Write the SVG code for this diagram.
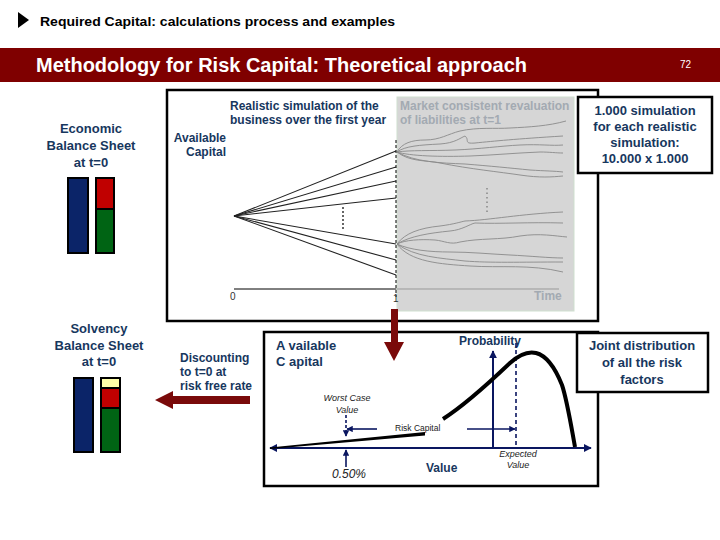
<svg xmlns="http://www.w3.org/2000/svg" width="720" height="540" viewBox="0 0 720 540">
<defs>
<style>
.nv{font-family:"Liberation Sans",Arial,sans-serif;font-weight:bold;fill:#17375e}
.it{font-family:"Liberation Sans",Arial,sans-serif;font-style:italic;fill:#222}
.gr{font-family:"Liberation Sans",Arial,sans-serif;font-weight:bold;fill:#a3aab2}
.frame{fill:none;stroke:#000;stroke-width:2.5}
.box{fill:#fff;stroke:#000;stroke-width:2.5}
.fan{fill:none;stroke:#222;stroke-width:1.1}
.sc{fill:none;stroke:#8a8a8a;stroke-width:0.9}
.ax{stroke:#0a1660;stroke-width:2;fill:none}
.bar{stroke:#000;stroke-width:2}
</style>
<marker id="ah" viewBox="0 0 10 10" refX="9" refY="5" markerWidth="4" markerHeight="4" orient="auto-start-reverse">
<path d="M0,0 L10,5 L0,10 z" fill="#0a1660"/>
</marker>
<marker id="ahk" viewBox="0 0 10 10" refX="9" refY="5" markerWidth="5" markerHeight="5" orient="auto-start-reverse">
<path d="M0,0 L10,5 L0,10 z" fill="#000"/>
</marker>
</defs>
<rect width="720" height="540" fill="#fff"/>

<g id="header">
<polygon points="18,12 18,28 29,20" fill="#000"/>
<text x="40" y="26" font-family="Liberation Sans,Arial,sans-serif" font-weight="bold" font-size="13.5" textLength="355" lengthAdjust="spacingAndGlyphs" fill="#000">Required Capital: calculations process and examples</text>
<rect x="0" y="48" width="720" height="34" fill="#7f0000"/>
<text x="36" y="72" font-family="Liberation Sans,Arial,sans-serif" font-weight="bold" font-size="19.5" textLength="491" lengthAdjust="spacingAndGlyphs" fill="#fff">Methodology for Risk Capital: Theoretical approach</text>
<text x="680" y="68" font-family="Liberation Sans,Arial,sans-serif" font-size="10" fill="#fff">72</text>
</g>

<g id="economic-bs">
<text class="nv" font-size="13" text-anchor="middle"><tspan x="91" y="133">Economic</tspan><tspan x="91" y="150">Balance Sheet</tspan><tspan x="91" y="167">at t=0</tspan></text>
<rect class="bar" x="68" y="178" width="20" height="75" fill="#0b2468"/>
<rect class="bar" x="96" y="178" width="18" height="31" fill="#c00000"/>
<rect class="bar" x="96" y="209" width="18" height="44" fill="#006414"/>
</g>

<g id="simulation-chart">
<rect class="frame" x="167" y="90" width="431" height="231"/>
<rect x="397" y="97" width="177" height="214" fill="#d6d6d6" stroke="#cfe0cf" stroke-width="1"/>
<text class="nv" font-size="12"><tspan x="230" y="110">Realistic simulation of the</tspan><tspan x="230" y="124">business over the first year</tspan></text>
<text class="gr" font-size="12"><tspan x="400" y="110">Market consistent revaluation</tspan><tspan x="400" y="124">of liabilities at t=1</tspan></text>
<text class="nv" font-size="12" text-anchor="end"><tspan x="226" y="142">Available</tspan><tspan x="226" y="156">Capital</tspan></text>
<g class="fan">
<line x1="234" y1="216" x2="396" y2="151"/>
<line x1="234" y1="216" x2="396" y2="167"/>
<line x1="234" y1="216" x2="396" y2="181"/>
<line x1="234" y1="216" x2="396" y2="198"/>
<line x1="234" y1="216" x2="396" y2="244"/>
<line x1="234" y1="216" x2="396" y2="260"/>
<line x1="234" y1="216" x2="396" y2="275"/>
</g>
<line x1="343" y1="207" x2="343" y2="231" stroke="#000" stroke-width="1.2" stroke-dasharray="2,2"/>
<g class="sc">
<path d="M397,152 C402,143 412,140 425,140 C440,140 448,134 460,131 C478,127 495,129 510,128 C530,127 548,126 566,121"/>
<path d="M397,152 C405,146 420,145 440,144 C455,143 460,138 465,136 C470,140 463,144 475,143 C495,141 515,139 563,136"/>
<path d="M397,152 C410,150 430,151 455,150 C480,149 500,146 520,145 C540,144 552,146 563,145"/>
<path d="M397,152 C410,156 440,157 470,156 C495,155 515,153 540,152 C550,152 556,153 563,153"/>
<path d="M397,152 C415,162 440,163 465,164 C490,166 510,168 530,170 C545,171 555,171 563,172"/>
<path d="M397,152 C410,162 425,160 440,163 C470,169 500,172 520,175 C540,178 552,177 563,176"/>
<path d="M397,244 C405,233 420,228 440,226 C455,224 460,222 465,221 C490,220 520,214 563,212"/>
<path d="M397,244 C410,236 430,233 450,231 C462,230 470,224 475,223 C500,224 530,222 563,223"/>
<path d="M397,244 C405,240 420,239 435,240 C445,241 450,245 460,242 C480,238 500,240 520,236 C540,233 555,236 567,237"/>
<path d="M397,244 C410,250 430,252 450,252 C470,252 490,254 510,255 C530,256 550,258 563,258"/>
<path d="M397,244 C415,257 440,258 465,261 C490,263 520,262 563,262"/>
<path d="M397,244 C410,262 440,264 470,266 C500,268 530,264 563,272"/>
</g>
<line x1="487" y1="188" x2="487" y2="212" stroke="#888" stroke-width="1.5" stroke-dasharray="1.5,3"/>
<line x1="234" y1="289" x2="396" y2="289" stroke="#000" stroke-width="1"/>
<line x1="396" y1="289" x2="559" y2="289" stroke="#999" stroke-width="1"/>
<line x1="396" y1="140" x2="396" y2="297" stroke="#000" stroke-width="1" stroke-dasharray="3,2"/>
<text x="230" y="300" font-family="Liberation Sans,Arial,sans-serif" font-size="10" fill="#333">0</text>
<text x="393" y="302" font-family="Liberation Sans,Arial,sans-serif" font-size="10" fill="#333">1</text>
<text class="gr" x="534" y="300" font-size="12" font-weight="normal">Time</text>
</g>

<g id="simulation-note">
<rect class="box" x="578" y="97" width="134" height="76"/>
<text class="nv" font-size="13" text-anchor="middle"><tspan x="645" y="115">1.000 simulation</tspan><tspan x="645" y="131">for each realistic</tspan><tspan x="645" y="147">simulation:</tspan><tspan x="645" y="163">10.000 x 1.000</tspan></text>
</g>

<g id="solvency-bs">
<text class="nv" font-size="13" text-anchor="middle"><tspan x="99" y="333">Solvency</tspan><tspan x="99" y="350">Balance Sheet</tspan><tspan x="99" y="366">at t=0</tspan></text>
<rect class="bar" x="74" y="378" width="19" height="74" fill="#0b2468"/>
<rect class="bar" x="101" y="378" width="19" height="10" fill="#ffffa8"/>
<rect class="bar" x="101" y="388" width="19" height="20" fill="#c00000"/>
<rect class="bar" x="101" y="408" width="19" height="44" fill="#006414"/>
</g>

<g id="discount-label">
<text class="nv" font-size="12"><tspan x="180" y="362">Discounting</tspan><tspan x="180" y="376">to t=0 at</tspan><tspan x="180" y="390">risk free rate</tspan></text>
</g>

<g id="distribution-chart">
<rect class="box" x="264" y="332" width="334" height="154"/>
<text class="nv" font-size="13"><tspan x="276" y="350">A vailable</tspan><tspan x="276" y="366">C apital</tspan></text>
<text class="nv" x="459" y="345" font-size="12">Probability</text>
<line class="ax" x1="270" y1="448" x2="591" y2="448" marker-start="url(#ah)" marker-end="url(#ah)"/>
<line class="ax" x1="493" y1="448" x2="493" y2="351" marker-end="url(#ah)"/>
<line x1="516" y1="343" x2="516" y2="448" stroke="#0a1660" stroke-width="1.6" stroke-dasharray="4,3"/>
<path d="M270,447.5 L425,432 L425,435.5 L270,449 Z" fill="#000"/>
<path d="M443,419 C465,405 490,382 510,363 C520,354 528,351 536,353 C548,356 556,370 562,385 C567,400 571,425 575,447" fill="none" stroke="#000" stroke-width="4"/>
<line x1="346" y1="415" x2="346" y2="436" stroke="#0a1660" stroke-width="1.6" stroke-dasharray="3,2" marker-end="url(#ah)"/>
<line x1="346" y1="467" x2="346" y2="450" stroke="#0a1660" stroke-width="1.6" marker-end="url(#ah)"/>
<line x1="377" y1="429" x2="347" y2="429" stroke="#0a1660" stroke-width="1.6" marker-end="url(#ah)"/>
<line x1="467" y1="429" x2="515" y2="429" stroke="#0a1660" stroke-width="1.6" marker-end="url(#ah)"/>
<text class="it" font-size="9" text-anchor="middle"><tspan x="347" y="401">Worst Case</tspan><tspan x="347" y="413">Value</tspan></text>
<text x="395" y="431" font-family="Liberation Sans,Arial,sans-serif" font-size="8.5" fill="#222">Risk Capital</text>
<text class="it" x="332" y="478" font-size="12" fill="#333">0.50%</text>
<text class="nv" x="426" y="472" font-size="12">Value</text>
<text class="it" font-size="9" text-anchor="middle"><tspan x="518" y="457">Expected</tspan><tspan x="518" y="468">Value</tspan></text>
</g>

<g id="joint-note">
<rect class="box" x="577" y="333" width="131" height="59"/>
<text class="nv" font-size="13" text-anchor="middle"><tspan x="642" y="350">Joint distribution</tspan><tspan x="642" y="367">of all the risk</tspan><tspan x="642" y="384">factors</tspan></text>
</g>

<g id="connectors">
<polygon points="391,309 398,309 398,342 404,342 394,361 384,342 391,342" fill="#7a0a0a"/>
<polygon points="250,396 173,396 173,391 155,400 173,409 173,404 250,404" fill="#7a0a0a"/>
</g>
</svg>
